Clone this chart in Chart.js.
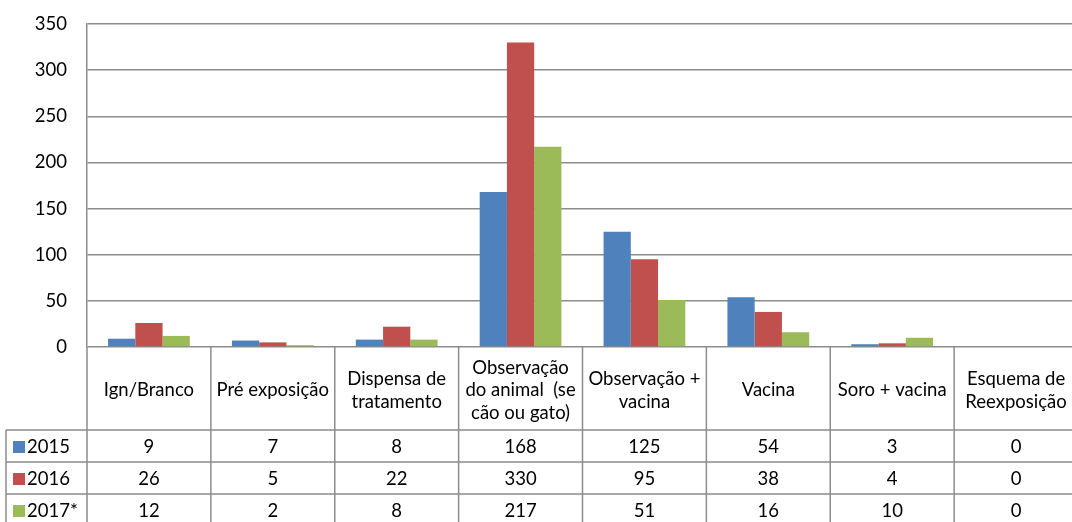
<!DOCTYPE html>
<html><head><meta charset="utf-8">
<script src="https://cdn.jsdelivr.net/npm/chart.js@4/dist/chart.umd.min.js"></script>
<style>html,body{margin:0;padding:0;overflow:hidden;background:#fff;width:1072px;height:522px}
#wrap{position:relative;width:1079px;height:522px}</style></head>
<body><div id="wrap"><canvas id="c" width="1079" height="522"></canvas></div>
<script>
const categories = [["Ign/Branco"],["Pré exposição"],["Dispensa de","tratamento"],["Observação","do animal  (se","cão ou gato)"],["Observação +","vacina"],["Vacina"],["Soro + vacina"],["Esquema de","Reexposição"]];
const seriesNames = ["2015","2016","2017*"];
const values2015 = [9,7,8,168,125,54,3,0];
const values2016 = [26,5,22,330,95,38,4,0];
const values2017 = [12,2,8,217,51,16,10,0];
const seriesValues = [values2015, values2016, values2017];
const colors = ["#4F81BD","#C0504D","#9BBB59"];
const yMin = 0, yMax = 350, yStep = 50;

const FONT = "Lato, 'Open Sans', sans-serif";
const GRID = "#8c8c8c";
const FS = 18.5;

const tablePlugin = {
  id: 'dataTable',
  afterDraw(chart) {
    const ctx = chart.ctx;
    const xs = chart.scales.x;
    const area = chart.chartArea;
    const n = categories.length;
    const b = [area.left];
    for (let i = 1; i < n; i++) b.push((xs.getPixelForValue(i - 1) + xs.getPixelForValue(i)) / 2);
    b.push(area.right);
    const top = area.bottom;
    const headBottom = top + 83;
    const rowH = 32;
    const tableLeft = 6;
    const bottom = headBottom + rowH * seriesNames.length;
    ctx.save();
    ctx.strokeStyle = GRID;
    ctx.lineWidth = 1.5;
    ctx.beginPath();
    for (let r = 0; r < seriesNames.length; r++) {
      const y = headBottom + r * rowH;
      ctx.moveTo(tableLeft, y); ctx.lineTo(area.right + 2, y);
    }
    for (let i = 0; i <= n; i++) {
      ctx.moveTo(b[i], top); ctx.lineTo(b[i], bottom);
    }
    ctx.moveTo(tableLeft, headBottom); ctx.lineTo(tableLeft, bottom);
    ctx.stroke();

    ctx.fillStyle = '#000';
    ctx.font = FS + 'px ' + FONT;
    ctx.textAlign = 'center';
    ctx.textBaseline = 'middle';
    const lh = 22.5;
    const hc = (top + headBottom) / 2 + 2;
    for (let i = 0; i < n; i++) {
      const lines = categories[i];
      const cx = xs.getPixelForValue(i);
      const y0 = hc - (lines.length - 1) * lh / 2;
      lines.forEach((t, k) => ctx.fillText(t, cx, y0 + k * lh));
    }
    for (let r = 0; r < seriesNames.length; r++) {
      const cy = headBottom + r * rowH + rowH / 2 + 1;
      ctx.fillStyle = colors[r];
      ctx.fillRect(13, cy - 6, 12, 12);
      ctx.fillStyle = '#000';
      ctx.textAlign = 'left';
      ctx.fillText(seriesNames[r], 27, cy);
      ctx.textAlign = 'center';
      for (let i = 0; i < n; i++) {
        ctx.fillText(String(seriesValues[r][i]), xs.getPixelForValue(i), cy);
      }
    }
    ctx.restore();
  }
};

new Chart(document.getElementById('c'), {
  type: 'bar',
  data: {
    labels: categories.map(c => c.join(' ')),
    datasets: seriesNames.map((name, i) => ({
      label: name,
      data: seriesValues[i],
      backgroundColor: colors[i],
      borderWidth: 0,
      categoryPercentage: 0.66,
      barPercentage: 1.0
    }))
  },
  options: {
    responsive: false,
    devicePixelRatio: 1,
    animation: false,
    layout: { padding: { top: 24, bottom: 175, left: 0, right: 1 } },
    plugins: { legend: { display: false }, tooltip: { enabled: false } },
    scales: {
      x: { display: false },
      y: {
        min: yMin, max: yMax,
        afterFit(scale) { scale.width = 87; scale.paddingTop = 0; scale.paddingBottom = 0; },
        ticks: { stepSize: yStep, color: '#000', font: { family: FONT, size: FS }, padding: 20 },
        grid: { color: GRID, lineWidth: 1.5, drawTicks: false },
        border: { display: true, color: GRID, width: 1.5 }
      }
    }
  },
  plugins: [tablePlugin]
});
</script>
</body></html>
